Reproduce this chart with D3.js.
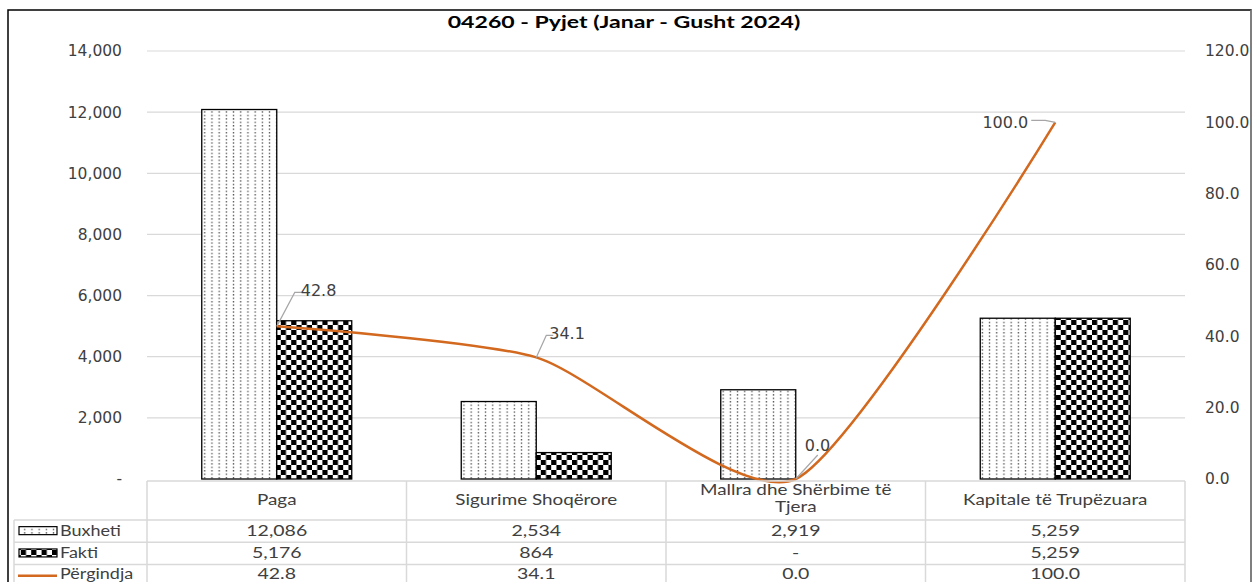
<!DOCTYPE html>
<html>
<head>
<meta charset="utf-8">
<script src="https://cdn.jsdelivr.net/npm/d3@7"></script>
<style>
  html, body { margin: 0; padding: 0; background: #fff; }
  svg { display: block; }
</style>
</head>
<body>
<svg id="chart" width="1253" height="582"></svg>
<script>
// Budget execution by economic category
const categories = ["Paga", "Sigurime Shoqërore", "Mallra dhe Shërbime të Tjera", "Kapitale të Trupëzuara"];
const categoryLines = [["Paga"], ["Sigurime Shoqërore"], ["Mallra dhe Shërbime të", "Tjera"], ["Kapitale të Trupëzuara"]];
const buxheti = [12086, 2534, 2919, 5259];
const fakti = [5176, 864, 0, 5259];
const perqindja = [42.8, 34.1, 0.0, 100.0];
const leftTicks = [0, 2000, 4000, 6000, 8000, 10000, 12000, 14000];
const rightTicks = [0, 20, 40, 60, 80, 100, 120];
const seriesNames = ["Buxheti", "Fakti", "Përgindja"];

const svg = d3.select("#chart");
const W = 1253, H = 582;
const plot = { left: 147, right: 1185, top: 51, bottom: 479 };
const lineColor = "#d2691f";
const gridColor = "#d9d9d9";
const textColor = "#404040";
const axisFont = "'DejaVu Sans', sans-serif";
const tFont = "Lato, 'Open Sans', sans-serif";
const stretch = 1.3; // wide setting for title and table text

const defs = svg.append("defs");
// dotted fill
const dots = defs.append("pattern").attr("id", "dots")
  .attr("patternUnits", "userSpaceOnUse").attr("width", 7.2).attr("height", 3.45);
dots.append("rect").attr("width", 7.2).attr("height", 3.45).attr("fill", "#fff");
dots.append("rect").attr("x", 2.5).attr("y", 1).attr("width", 1.3).attr("height", 1.2).attr("fill", "#333");
// checkerboard fill
const checker = defs.append("pattern").attr("id", "checker")
  .attr("patternUnits", "userSpaceOnUse").attr("width", 10.4).attr("height", 10);
checker.append("rect").attr("width", 10.4).attr("height", 10).attr("fill", "#fff");
checker.append("rect").attr("width", 5.2).attr("height", 5).attr("fill", "#000");
checker.append("rect").attr("x", 5.2).attr("y", 5).attr("width", 5.2).attr("height", 5).attr("fill", "#000");

// outer frame
svg.append("rect").attr("x", 8).attr("y", 10).attr("width", 1243).attr("height", 580)
  .attr("fill", "none").attr("stroke", "#000").attr("stroke-width", 1.5);
svg.append("line").attr("x1", 1251).attr("x2", 1251).attr("y1", 10).attr("y2", H)
  .attr("stroke", "#bfbfbf").attr("stroke-width", 1);

// stretched text helper
function wideText(parent, tx, ty, str, opts = {}) {
  return parent.append("text")
    .attr("transform", `translate(${tx},${ty}) scale(${opts.sx || stretch},1)`)
    .attr("text-anchor", opts.anchor || "middle")
    .attr("font-family", tFont)
    .attr("font-weight", opts.weight || "normal")
    .attr("font-size", opts.size || 15)
    .attr("fill", opts.fill || textColor)
    .text(str);
}

// title
wideText(svg, 624, 28, "04260 - Pyjet (Janar - Gusht 2024)", { size: 17.5, weight: "bold", fill: "#000", sx: 1.32 });

const x = d3.scaleBand().domain(categories).range([plot.left, plot.right])
  .paddingInner(0.422).paddingOuter(0.211);
const xs = d3.scaleBand().domain(["Buxheti", "Fakti"]).range([0, x.bandwidth()]);
const yL = d3.scaleLinear().domain([0, 14000]).range([plot.bottom, plot.top]);
const yR = d3.scaleLinear().domain([0, 120]).range([plot.bottom, plot.top]);

// gridlines
svg.append("g").selectAll("line").data(leftTicks.slice(1)).join("line")
  .attr("x1", plot.left).attr("x2", plot.right)
  .attr("y1", d => yL(d)).attr("y2", d => yL(d))
  .attr("stroke", gridColor).attr("stroke-width", 1.2);

// left axis
const fmtL = d => d === 0 ? "-" : d3.format(",")(d);
const axisL = svg.append("g").attr("transform", `translate(${plot.left - 25},0)`)
  .call(d3.axisLeft(yL).tickValues(leftTicks).tickFormat(fmtL).tickSize(0).tickPadding(0));
axisL.select(".domain").remove();
axisL.selectAll("text").attr("font-family", axisFont).attr("font-size", 15.5)
  .attr("fill", textColor);

// right axis
const axisR = svg.append("g").attr("transform", `translate(${plot.right + 20},0)`)
  .call(d3.axisRight(yR).tickValues(rightTicks).tickFormat(d3.format(".1f")).tickSize(0).tickPadding(0));
axisR.select(".domain").remove();
axisR.selectAll("text").attr("font-family", axisFont).attr("font-size", 15.5)
  .attr("fill", textColor);

// bars
const barData = [];
categories.forEach((c, i) => {
  barData.push({ c, s: "Buxheti", v: buxheti[i], fill: "url(#dots)" });
  barData.push({ c, s: "Fakti", v: fakti[i], fill: "url(#checker)" });
});
svg.append("g").selectAll("rect").data(barData.filter(d => d.v > 0)).join("rect")
  .attr("x", d => x(d.c) + xs(d.s))
  .attr("y", d => yL(d.v))
  .attr("width", xs.bandwidth())
  .attr("height", d => yL(0) - yL(d.v))
  .attr("fill", d => d.fill)
  .attr("stroke", "#000").attr("stroke-width", 1.3);

// percentage line (smoothed)
const pts = categories.map((c, i) => [x(c) + x.bandwidth() / 2, yR(perqindja[i])]);
svg.append("path").datum(pts)
  .attr("d", d3.line().curve(d3.curveCardinal.tension(0.35)))
  .attr("fill", "none").attr("stroke", lineColor).attr("stroke-width", 2.5);

// data labels with leader lines
const labelOffsets = [
  { dx: 24, dy: -36, anchor: "start", lead: [[0, 0], [18, -34], [26, -34]] },
  { dx: 13, dy: -24, anchor: "start", lead: [[0, 0], [10, -22], [17, -22]] },
  { dx: 9, dy: -34, anchor: "start", lead: [[0, 0], [22, -24]] },
  { dx: -27, dy: 0, anchor: "end", lead: [[0, 0], [-10, -2], [-24, -2]] }
];
const lab = svg.append("g");
pts.forEach((p, i) => {
  const o = labelOffsets[i];
  lab.append("path")
    .attr("d", d3.line()(o.lead.map(q => [p[0] + q[0], p[1] + q[1]])))
    .attr("fill", "none").attr("stroke", "#a6a6a6").attr("stroke-width", 1.2);
  lab.append("text").attr("x", p[0] + o.dx).attr("y", p[1] + o.dy + 6)
    .attr("text-anchor", o.anchor)
    .attr("font-family", axisFont).attr("font-size", 16)
    .attr("fill", textColor).text(d3.format(".1f")(perqindja[i]));
});

// data table
const tbl = svg.append("g");
const tableTop = 481, headBottom = 520, rowH = 22.3, tableLeft = 14;
const rowYs = [headBottom, headBottom + rowH, headBottom + 2 * rowH, headBottom + 3 * rowH];
const rowBase = [16, 16, 14.5];
const colEdges = [plot.left].concat(categories.map(c => x(c) + x.bandwidth() + x.step() * x.paddingInner() / 2));
colEdges[colEdges.length - 1] = plot.right;
const tline = (x1, y1, x2, y2) => tbl.append("line").attr("x1", x1).attr("y1", y1).attr("x2", x2).attr("y2", y2)
  .attr("stroke", gridColor).attr("stroke-width", 1.5);
tline(plot.left, tableTop, plot.right, tableTop);
rowYs.forEach(y => tline(tableLeft, y, plot.right, y));
colEdges.forEach(cx => tline(cx, tableTop, cx, H));
tline(tableLeft, headBottom, tableLeft, H);

categories.forEach((c, i) => {
  const cx = x(c) + x.bandwidth() / 2;
  const lines = categoryLines[i];
  lines.forEach((ln, k) => {
    wideText(tbl, cx, lines.length === 1 ? 505 : 495 + k * 17, ln, { size: 14.5 });
  });
  const vals = [d3.format(",")(buxheti[i]), fakti[i] === 0 ? "-" : d3.format(",")(fakti[i]), d3.format(".1f")(perqindja[i])];
  vals.forEach((v, r) => {
    wideText(tbl, cx, rowYs[r] + rowBase[r], v, { size: 15 });
  });
});

// legend keys inside the table
seriesNames.forEach((s, r) => {
  const yMid = rowYs[r] + rowH / 2;
  if (r < 2) {
    tbl.append("rect").attr("x", 19).attr("y", yMid - 4.5).attr("width", 38).attr("height", 8)
      .attr("fill", r === 0 ? "url(#dots)" : "url(#checker)").attr("stroke", "#000").attr("stroke-width", 1.2);
  } else {
    tbl.append("line").attr("x1", 18).attr("x2", 57).attr("y1", yMid).attr("y2", yMid)
      .attr("stroke", lineColor).attr("stroke-width", 2.5);
  }
  wideText(tbl, 60, rowYs[r] + rowBase[r], s, { size: 15, anchor: "start", sx: 1.2 });
});
</script>
</body>
</html>
